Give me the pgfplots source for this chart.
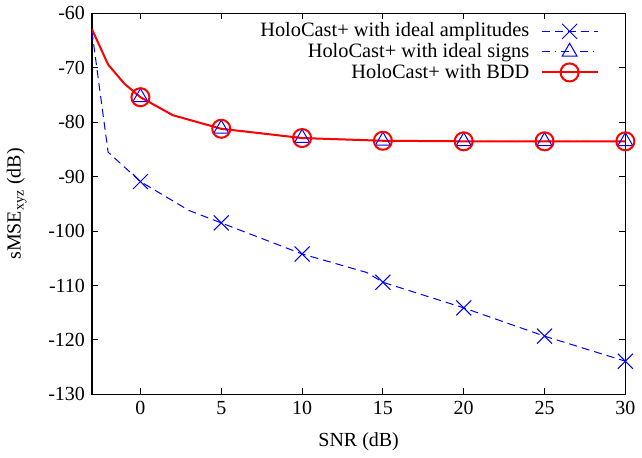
\documentclass[border=0pt]{standalone}
\usepackage{fontspec}
\setmainfont{Liberation Serif}
\usepackage{pgfplots}
\pgfplotsset{compat=1.18}

\begin{document}
\begin{tikzpicture}
\begin{axis}[
    scale only axis,
    width=266bp,
    height=190bp,
    xmin=-3, xmax=30,
    ymin=-130, ymax=-60,
    xtick={0,5,...,30},
    ytick={-130,-120,...,-60},
    tick align=inside,
    major tick length=3bp,
    tick style={black, line width=0.5bp},
    axis line style={line width=0.6bp},
    /pgf/number format/assume math mode=true,
    ticklabel style={font=\fontsize{10}{12}\selectfont},
    label style={font=\fontsize{10}{12}\selectfont},
    xlabel={SNR (dB)},
    ylabel={sMSE\textsubscript{xyz} (dB)},
    xlabel style={yshift=-2bp},
    ylabel style={yshift=4bp},
    legend plot pos=right,
    legend cell align=right,
    legend style={draw=none, fill=none, at={(rel axis cs:0.962,0.99)}, anchor=north east,
        font=\fontsize{10.2}{10}\selectfont, nodes={inner sep=0.6pt}, row sep=0.5bp,
        column sep=5bp},
    legend image code/.code={
        \draw[mark indices={2}] plot coordinates {(0bp,0bp) (14bp,0bp) (28bp,0bp)};
    },
]
\addplot[blue, line width=0.5bp, dash pattern=on 4bp off 2.5bp,
    mark=x, mark size=5.3bp, mark indices={3,5,6,8,9,10,11},
    mark options={solid, line width=0.5bp}]
coordinates {(-3,-63.3) (-2,-85.5) (0,-90.9) (3,-96.2) (5,-98.5) (10,-104.2)
    (14,-107.6) (15,-109.4) (20,-114.1) (25,-119.3) (30,-123.9)};
\addlegendentry{HoloCast+ with ideal amplitudes}

\addplot[blue, line width=0.5bp, dash pattern=on 4bp off 2.5bp on 0.5bp off 2.5bp,
    mark=triangle, mark size=4.3bp, mark indices={4,6,7,8,9,10,11},
    mark options={solid, line width=0.5bp}]
coordinates {(-3,-62.9) (-2,-69.4) (-1,-72.9) (0,-75.4) (2,-78.7) (5,-81.2)
    (10,-82.9) (15,-83.4) (20,-83.5) (25,-83.5) (30,-83.5)};
\addlegendentry{HoloCast+ with ideal signs}

\addplot[red, line width=1bp,
    mark=o, mark size=4.5bp, mark indices={4,6,7,8,9,10,11},
    mark options={solid, line width=1bp}]
coordinates {(-3,-62.9) (-2,-69.4) (-1,-72.9) (0,-75.4) (2,-78.7) (5,-81.2)
    (10,-82.9) (15,-83.4) (20,-83.5) (25,-83.5) (30,-83.5)};
\addlegendentry{HoloCast+ with BDD}
\end{axis}
\end{tikzpicture}
\end{document}
